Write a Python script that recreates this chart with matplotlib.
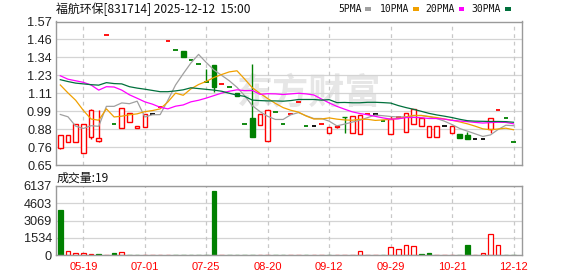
import numpy as np
import matplotlib
matplotlib.use("Agg")
import matplotlib.pyplot as plt
from matplotlib.patches import Rectangle

plt.rcParams['font.family'] = ['Noto Sans CJK SC', 'DejaVu Sans']

title = "福航环保[831714] 2025-12-12  15:00"
vol_title = "成交量:19"

# daily candles (thinly traded, so many are flat)
opens = [0.76, 0.795, 0.80, 0.73, 0.827, 0.802, 1.485, 0.91, 0.885, 0.923,
         0.885, 0.895, 0.98, 1.025, 1.442, 1.39, 1.378, 1.325, 1.30, 1.18,
         1.288, 1.17, 1.148, 1.112, 0.91, 0.95, 0.904, 0.803, 0.988, 0.91,
         0.98, 1.052, 0.898, 0.898, 0.91, 0.855, 0.895, 0.96, 0.855, 0.848,
         0.98, 0.98, 0.935, 0.846, 0.955, 0.863, 0.916, 0.899, 0.827, 0.831,
         0.899, 0.853, 0.846, 0.842, 0.814, 0.814, 0.884, 1.001, 0.949, 0.795]
closes = [0.84, 0.845, 0.91, 0.91, 1.005, 0.82, 1.485, 0.91, 1.018, 0.982,
          0.90, 0.98, 0.98, 1.025, 1.442, 1.39, 1.342, 1.325, 1.30, 1.18,
          1.148, 1.17, 1.148, 1.091, 0.91, 0.831, 0.98, 1.001, 0.988, 0.91,
          0.98, 1.052, 0.898, 0.898, 0.91, 0.895, 0.90, 0.955, 0.965, 0.97,
          0.98, 0.98, 0.935, 0.942, 0.955, 0.985, 1.006, 0.949, 0.899, 0.899,
          0.899, 0.899, 0.825, 0.814, 0.814, 0.814, 0.949, 1.001, 0.949, 0.795]
highs = [0.845, 0.845, 0.91, 0.91, 1.006, 1.00, 1.485, 0.91, 1.018, 0.982,
         0.90, 0.98, 0.98, 1.025, 1.442, 1.39, 1.378, 1.325, 1.30, 1.268,
         1.288, 1.17, 1.148, 1.112, 0.91, 1.30, 0.98, 1.001, 0.988, 0.91,
         0.98, 1.052, 0.898, 0.898, 0.91, 0.895, 0.90, 0.96, 0.965, 0.97,
         0.98, 0.98, 0.935, 0.963, 0.955, 0.985, 1.006, 0.949, 0.899, 0.899,
         0.899, 0.899, 0.846, 0.863, 0.814, 0.814, 0.949, 1.001, 0.949, 0.795]
lows = [0.75, 0.795, 0.80, 0.73, 0.815, 0.80, 1.485, 0.91, 0.885, 0.923,
        0.885, 0.895, 0.98, 1.025, 1.442, 1.39, 1.342, 1.325, 1.30, 1.18,
        1.118, 1.17, 1.148, 1.091, 0.91, 0.831, 0.904, 0.803, 0.988, 0.91,
        0.98, 1.052, 0.898, 0.898, 0.91, 0.855, 0.885, 0.855, 0.855, 0.848,
        0.98, 0.98, 0.935, 0.846, 0.955, 0.863, 0.916, 0.899, 0.827, 0.831,
        0.899, 0.853, 0.825, 0.814, 0.814, 0.814, 0.853, 1.001, 0.949, 0.795]
prev_close_start = 0.85

volumes = [4010, 354, 177, 206, 90, 90, 60, 206, 295, 50,
           40, 60, 30, 40, 30, 40, 50, 30, 40, 50,
           5690, 40, 30, 50, 40, 60, 40, 50, 40, 30,
           40, 30, 40, 30, 40, 50, 40, 50, 60, 354,
           60, 40, 50, 708, 531, 885, 797, 90, 177, 60,
           40, 50, 60, 885, 40, 236, 1858, 885, 50, 19]

ma5 = [0.974, 0.959, 0.899, 0.884, 0.902, 0.898, 1.026, 1.026, 1.048, 1.043,
       1.059, 0.958, 0.972, 0.973, 1.065, 1.163, 1.235, 1.304, 1.359, 1.307,
       1.259, 1.225, 1.19, 1.148, 1.094, 1.03, 0.992, 0.962, 0.942, 0.942,
       0.972, 0.986, 0.966, 0.948, 0.948, 0.931, 0.901, 0.912, 0.925, 0.937,
       0.954, 0.97, 0.966, 0.961, 0.958, 0.959, 0.965, 0.968, 0.959, 0.948,
       0.931, 0.909, 0.884, 0.867, 0.850, 0.833, 0.843, 0.878, 0.905, 0.902]
ma10 = [1.163, 1.112, 1.065, 1.0, 0.945, 0.937, 1.01, 0.958, 0.963, 0.972,
        0.978, 0.992, 0.999, 1.010, 1.054, 1.111, 1.097, 1.138, 1.166, 1.186,
        1.211, 1.230, 1.247, 1.254, 1.201, 1.145, 1.109, 1.076, 1.045, 1.018,
        1.001, 0.989, 0.964, 0.945, 0.945, 0.952, 0.944, 0.939, 0.937, 0.943,
        0.943, 0.936, 0.939, 0.943, 0.948, 0.957, 0.968, 0.967, 0.961, 0.954,
        0.945, 0.937, 0.926, 0.914, 0.899, 0.882, 0.876, 0.881, 0.886, 0.876]
ma20 = [1.222, 1.20, 1.19, 1.18, 1.163, 1.13, 1.152, 1.15, 1.13, 1.10,
        1.078, 1.055, 1.04, 1.02, 1.01, 1.027, 1.035, 1.055, 1.065, 1.079,
        1.095, 1.111, 1.123, 1.132, 1.127, 1.128, 1.103, 1.107, 1.106, 1.102,
        1.106, 1.110, 1.106, 1.099, 1.073, 1.048, 1.026, 1.008, 0.991, 0.980,
        0.972, 0.962, 0.952, 0.944, 0.946, 0.954, 0.955, 0.953, 0.948, 0.948,
        0.944, 0.936, 0.932, 0.928, 0.923, 0.919, 0.922, 0.924, 0.923, 0.914]
ma30 = [1.197, 1.185, 1.175, 1.17, 1.165, 1.162, 1.178, 1.172, 1.17, 1.152,
        1.143, 1.136, 1.128, 1.12, 1.12, 1.125, 1.132, 1.145, 1.14, 1.135,
        1.13, 1.123, 1.11, 1.098, 1.09, 1.066, 1.063, 1.061, 1.061, 1.059,
        1.063, 1.070, 1.070, 1.070, 1.066, 1.069, 1.050, 1.051, 1.049, 1.049,
        1.052, 1.052, 1.050, 1.047, 1.031, 1.018, 1.007, 0.994, 0.981, 0.971,
        0.963, 0.954, 0.943, 0.934, 0.931, 0.930, 0.929, 0.929, 0.928, 0.924]

date_ticks = [3, 11, 19, 27, 35, 43, 51, 59]
date_labels = ["05-19", "07-01", "07-25", "08-20", "09-12", "09-29", "10-21", "12-12"]
price_labels = ["0.65", "0.76", "0.88", "0.99", "1.11", "1.23", "1.34", "1.46", "1.57"]
vol_labels = ["0", "1534", "3069", "4603", "6137"]
ma_names = ["5PMA", "10PMA", "20PMA", "30PMA"]

RED = "#ff0000"
GREEN = "#008000"
ma_colors = ["#a0a0a0", "#f0a000", "#ff00ff", "#00703c"]
GRID = "#d4d4d4"
SPINE = "#9a9a9a"

W, H = 578, 276
fig = plt.figure(figsize=(W / 100, H / 100), dpi=100)
ax = fig.add_axes([56 / W, 1 - 165 / H, 466 / W, 143.5 / H])
axv = fig.add_axes([56 / W, 1 - 255.3 / H, 466 / W, 69.3 / H])

n = len(closes)
x = np.arange(n)
w = 0.6
prev = [prev_close_start] + closes[:-1]

for a in (ax, axv):
    a.set_xlim(-0.56, 60.1)
    a.set_xticks(date_ticks)
    a.tick_params(length=0)
    for s in a.spines.values():
        s.set_color(SPINE)
        s.set_linewidth(1)
    a.grid(axis="y", color=GRID, linewidth=0.9, linestyle="-")
    for t in date_ticks:
        a.axvline(t, color="#c8c8c8", linewidth=0.9, linestyle=(0, (3, 3)), zorder=0.8)
    a.set_axisbelow(True)

# price panel
ax.set_ylim(0.65, 1.57)
ax.set_yticks(np.linspace(0.65, 1.57, 9))
ax.set_yticklabels(price_labels, family="Liberation Sans", fontsize=9.2, color="#222222")
ax.tick_params(axis="y", pad=3)
ax.set_xticklabels([])

ax.text(0.543, 0.50, "东方财富", transform=ax.transAxes, ha="center", va="center",
        fontsize=26, fontweight="bold", color="#e6e6e6", zorder=0.5)

for i in range(n):
    o, c, h, l = opens[i], closes[i], highs[i], lows[i]
    if c > o:
        col, face = RED, "white"
    elif c < o:
        col, face = GREEN, GREEN
    else:
        col = RED if c > prev[i] else (GREEN if c < prev[i] else "black")
        face = None
    top, bot = max(o, c), min(o, c)
    if h > top:
        ax.vlines(i, top, h, color=col, linewidth=1, zorder=2)
    if l < bot:
        ax.vlines(i, l, bot, color=col, linewidth=1, zorder=2)
    if face is None:
        ax.hlines(c, i - w / 2, i + w / 2, color=col, linewidth=1.3, zorder=2)
    else:
        ax.add_patch(Rectangle((i - w / 2, bot), w, top - bot, facecolor=face,
                               edgecolor=col, linewidth=1, zorder=2))

for vals, colr in zip([ma5, ma10, ma20, ma30], ma_colors):
    ax.plot(x, vals, color=colr, linewidth=0.9, zorder=3)

# volume panel
vol_up = [c >= p for c, p in zip(closes, prev)]
axv.bar(x, volumes, width=w, color=["white" if u else GREEN for u in vol_up],
        edgecolor=[RED if u else GREEN for u in vol_up], linewidth=0.9, zorder=2)
axv.set_ylim(0, 6137)
axv.set_yticks(np.linspace(0, 6137, 5))
axv.set_yticklabels(vol_labels, family="Liberation Sans", fontsize=9.2, color="#222222")
axv.tick_params(axis="y", pad=3)
axv.set_xticklabels(date_labels, family="Liberation Sans", fontsize=8, color=RED)
axv.tick_params(axis="x", pad=5)

# header texts
fig.text(56 / W, 1 - 9 / H, title, fontsize=8.6, va="center", ha="left", color="#111111")
fig.text(57 / W, 1 - 178 / H, vol_title, fontsize=8.6, va="center", ha="left", color="#111111")

label_x = [338, 380, 425, 471.5]
box_x = [365, 413, 458.5, 505]
for name, lx, bx, colr in zip(ma_names, label_x, box_x, ma_colors):
    fig.text(lx / W, 1 - 9 / H, name, family="DejaVu Sans Mono", fontsize=7,
             va="center", ha="left", color="#111111")
    fig.add_artist(Rectangle((bx / W, 1 - 10.5 / H), 5.5 / W, 3 / H,
                             transform=fig.transFigure, facecolor=colr, edgecolor="none"))

fig.savefig("out.png", dpi=100)
